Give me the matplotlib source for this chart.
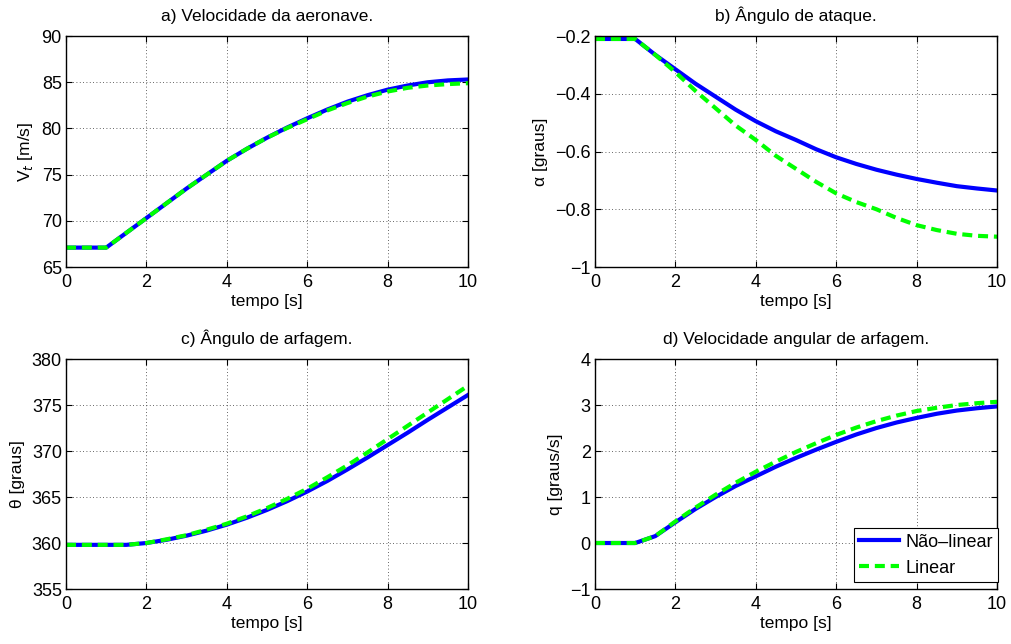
import matplotlib
matplotlib.use("Agg")
import matplotlib.pyplot as plt

plt.rcParams['font.family'] = ['Liberation Sans', 'DejaVu Sans']

# tempo [s]
t = [0, 0.5, 1, 1.5, 2, 2.5, 3, 3.5, 4, 4.5, 5, 5.5, 6, 6.5, 7, 7.5, 8, 8.5, 9, 9.5, 10]

# a) velocidade
vt_nl = [67.1, 67.1, 67.1, 68.7, 70.3, 71.9, 73.5, 75.0, 76.5, 77.8, 79.0, 80.1, 81.1,
         82.05, 82.9, 83.6, 84.2, 84.65, 85.0, 85.2, 85.3]
vt_lin = [67.1, 67.1, 67.1, 68.7, 70.3, 71.9, 73.5, 75.0, 76.5, 77.8, 79.0, 80.05, 81.0,
          81.95, 82.75, 83.45, 84.0, 84.4, 84.65, 84.8, 84.9]

# b) angulo de ataque
alfa_nl = [-0.21, -0.21, -0.21, -0.265, -0.315, -0.365, -0.41, -0.455, -0.495, -0.53, -0.56,
           -0.592, -0.62, -0.643, -0.663, -0.68, -0.695, -0.708, -0.72, -0.728, -0.735]
alfa_lin = [-0.21, -0.21, -0.21, -0.265, -0.325, -0.39, -0.45, -0.51, -0.56, -0.615, -0.66,
            -0.705, -0.745, -0.775, -0.80, -0.83, -0.855, -0.872, -0.885, -0.892, -0.895]

# c) angulo de arfagem
theta_nl = [359.8, 359.8, 359.8, 359.8, 360.0, 360.35, 360.8, 361.35, 362.0, 362.75, 363.6,
            364.55, 365.6, 366.75, 368.0, 369.3, 370.65, 372.0, 373.4, 374.75, 376.1]
theta_lin = [359.8, 359.8, 359.8, 359.8, 360.0, 360.4, 360.85, 361.45, 362.1, 362.9, 363.8,
             364.8, 365.9, 367.15, 368.45, 369.85, 371.3, 372.75, 374.2, 375.65, 377.1]

# d) velocidade angular
q_nl = [0, 0, 0, 0.15, 0.45, 0.74, 1.0, 1.24, 1.45, 1.66, 1.85, 2.03, 2.2, 2.36, 2.5,
        2.62, 2.72, 2.81, 2.88, 2.93, 2.97]
q_lin = [0, 0, 0, 0.15, 0.47, 0.77, 1.05, 1.31, 1.55, 1.77, 1.98, 2.17, 2.35, 2.51, 2.65,
         2.77, 2.87, 2.94, 3.0, 3.04, 3.07]

paineis = [
    ("a) Velocidade da aeronave.", "V$_t$ [m/s]", vt_nl, vt_lin, (65, 90), [65, 70, 75, 80, 85, 90]),
    ("b) Ângulo de ataque.", "α [graus]", alfa_nl, alfa_lin, (-1, -0.2), [-1, -0.8, -0.6, -0.4, -0.2]),
    ("c) Ângulo de arfagem.", "θ [graus]", theta_nl, theta_lin, (355, 380), [355, 360, 365, 370, 375, 380]),
    ("d) Velocidade angular de arfagem.", "q [graus/s]", q_nl, q_lin, (-1, 4), [-1, 0, 1, 2, 3, 4]),
]
rotulos_y = [
    ["65", "70", "75", "80", "85", "90"],
    ["\u22121", "\u22120.8", "\u22120.6", "\u22120.4", "\u22120.2"],
    ["355", "360", "365", "370", "375", "380"],
    ["\u22121", "0", "1", "2", "3", "4"],
]

# posicoes dos eixos (fracao da figura)
pos = [
    [0.0653, 0.5854, 0.3977, 0.3586],
    [0.5885, 0.5854, 0.3977, 0.3586],
    [0.0653, 0.0854, 0.3977, 0.3571],
    [0.5885, 0.0854, 0.3977, 0.3571],
]

fig = plt.figure(figsize=(10.11, 6.44), dpi=100)
for i, (titulo, ylab, nl, lin, ylim, yt) in enumerate(paineis):
    ax = fig.add_axes(pos[i])
    ax.plot(t, nl, color=(0, 0, 1), lw=3.0, label="Não\u2013linear")
    ax.plot(t, lin, color=(0, 1, 0), lw=3.0, ls=(0, (2.4, 1.4)), label="Linear")
    ax.set_xlim(0, 10)
    ax.set_ylim(*ylim)
    ax.set_xticks([0, 2, 4, 6, 8, 10])
    ax.set_yticks(yt)
    ax.set_yticklabels(rotulos_y[i])
    ax.tick_params(direction="in", labelsize=13, length=4, top=True, right=True)
    ax.tick_params(axis="x", pad=5)
    ax.tick_params(axis="y", pad=3)
    ax.grid(True, ls=(0, (1, 3)), color="0.2", lw=0.6)
    ax.set_title(titulo, fontsize=12.5, pad=11)
    ax.set_xlabel("tempo [s]", fontsize=12.5, labelpad=2)
    ax.set_ylabel(ylab, fontsize=12.5, labelpad=5)
    for s in ax.spines.values():
        s.set_linewidth(1.0)
    if i == 3:
        leg = ax.legend(loc="lower right", fontsize=13, fancybox=False, framealpha=1,
                        edgecolor="black", bbox_to_anchor=(1.003, 0.03), borderaxespad=0,
                        handlelength=2.2, handletextpad=0.35, borderpad=0.3,
                        labelspacing=0.45, handleheight=0.9)
        leg.get_frame().set_linewidth(0.8)

fig.savefig("out.png", dpi=100)
